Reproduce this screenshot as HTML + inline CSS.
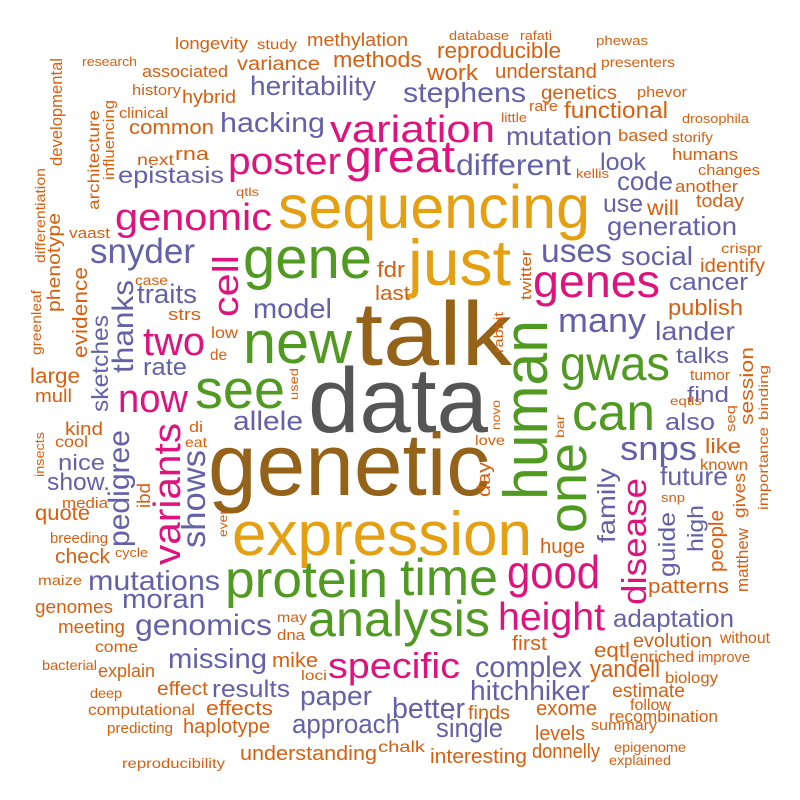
<!DOCTYPE html>
<html><head><meta charset="utf-8"><style>
html,body{margin:0;padding:0;background:#fff;}
svg{display:block;}
text{font-family:"Liberation Sans",Arial,sans-serif;}
</style></head><body>
<svg id="cloud" width="800" height="800" viewBox="0 0 800 800" xmlns="http://www.w3.org/2000/svg">
<rect width="800" height="800" fill="#fff"/>
</svg>
<script>
const palette = {G:"#555555",B:"#946218",Y:"#e4a012",N:"#519a22",M:"#df137d",P:"#6461a9",O:"#d85f10"};
// word, x, baseline y, length, size, color, rotated
const words = [
["data",308,432,180,92,"G",0],
["talk",355,365,157,90,"B",0],
["genetic",208,495,282,88,"B",0],
["sequencing",278,228,312,61,"Y",0],
["just",408,285,103,65,"Y",0],
["expression",232,555,300,62,"Y",0],
["gene",243,278,129,58,"N",0],
["new",243,363,109,60,"N",0],
["see",195,408,90,55,"N",0],
["protein",225,597,163,52,"N",0],
["time",400,595,98,52,"N",0],
["analysis",308,636,182,50,"N",0],
["human",547,500,180,62,"N",1],
["one",586,533,90,54,"N",1],
["gwas",560,380,110,48,"N",0],
["can",572,430,83,52,"N",0],
["variation",330,142,165,38,"M",0],
["great",345,172,110,45,"M",0],
["poster",228,174,113,38,"M",0],
["genomic",115,230,157,38,"M",0],
["genes",533,297,127,46,"M",0],
["cell",238,317,62,36,"M",1],
["two",143,355,62,40,"M",0],
["now",118,412,70,40,"M",0],
["variants",180,565,142,38,"M",1],
["good",507,588,93,46,"M",0],
["height",498,630,107,39,"M",0],
["specific",328,678,132,36,"M",0],
["disease",646,605,127,34,"M",1],
["heritability",250,95,126,27,"P",0],
["hacking",220,132,105,28,"P",0],
["epistasis",118,183,106,23,"P",0],
["stephens",403,102,123,28,"P",0],
["mutation",506,145,106,26,"P",0],
["different",456,175,115,30,"P",0],
["look",600,170,46,24,"P",0],
["code",617,190,56,26,"P",0],
["use",603,212,40,25,"P",0],
["generation",607,235,130,26,"P",0],
["uses",541,262,71,33,"P",0],
["social",621,265,72,26,"P",0],
["cancer",669,290,79,24,"P",0],
["many",558,332,88,34,"P",0],
["lander",655,340,80,26,"P",0],
["talks",676,363,53,22,"P",0],
["find",687,402,42,22,"P",0],
["also",665,430,50,24,"P",0],
["snps",620,460,77,34,"P",0],
["future",660,485,68,26,"P",0],
["family",615,543,75,25,"P",1],
["guide",675,577,65,23,"P",1],
["high",703,552,47,22,"P",1],
["adaptation",613,627,121,25,"P",0],
["complex",475,677,107,30,"P",0],
["hitchhiker",470,700,120,28,"P",0],
["better",392,718,73,29,"P",0],
["single",436,737,67,27,"P",0],
["snyder",90,263,105,35,"P",0],
["traits",137,303,60,27,"P",0],
["model",253,318,79,28,"P",0],
["rate",143,375,44,24,"P",0],
["thanks",133,373,93,30,"P",1],
["sketches",108,412,97,23,"P",1],
["allele",233,430,70,27,"P",0],
["pedigree",129,547,117,30,"P",1],
["shows",205,548,98,33,"P",1],
["nice",58,470,47,22,"P",0],
["show.",47,490,63,24,"P",0],
["mutations",88,590,132,28,"P",0],
["moran",122,608,83,27,"P",0],
["genomics",135,635,137,30,"P",0],
["missing",168,668,99,28,"P",0],
["results",212,697,78,24,"P",0],
["paper",300,705,72,27,"P",0],
["approach",292,733,108,27,"P",0],
["longevity",175,49,73,17,"O",0],
["study",257,49,40,14,"O",0],
["methylation",307,46,101,18,"O",0],
["research",82,66,55,13,"O",0],
["associated",142,77,86,17,"O",0],
["variance",237,70,83,19,"O",0],
["methods",333,67,89,22,"O",0],
["history",132,95,49,15,"O",0],
["hybrid",182,103,54,18,"O",0],
["developmental",62,166,108,17,"O",1],
["architecture",99,210,100,16,"O",1],
["influencing",114,180,80,15,"O",1],
["clinical",119,118,49,15,"O",0],
["common",129,134,85,20,"O",0],
["next",137,165,37,16,"O",0],
["rna",175,160,34,18,"O",0],
["qtls",236,196,23,12,"O",0],
["vaast",69,238,41,15,"O",0],
["differentiation",45,263,95,14,"O",1],
["phenotype",60,312,99,18,"O",1],
["greenleaf",41,355,65,14,"O",1],
["evidence",87,358,91,20,"O",1],
["fdr",377,277,28,22,"O",0],
["case",135,285,33,14,"O",0],
["last",375,300,35,20,"O",0],
["strs",168,320,33,17,"O",0],
["low",211,338,27,16,"O",0],
["de",210,360,17,16,"O",0],
["large",30,383,50,21,"O",0],
["used",298,400,32,12,"O",1],
["mull",35,402,37,18,"O",0],
["database",449,40,60,13,"O",0],
["rafati",520,40,32,13,"O",0],
["phewas",596,45,52,13,"O",0],
["reproducible",437,58,124,22,"O",0],
["presenters",601,67,74,14,"O",0],
["work",427,80,51,22,"O",0],
["understand",495,78,102,20,"O",0],
["genetics",541,99,76,19,"O",0],
["phevor",637,97,50,15,"O",0],
["rare",529,111,29,15,"O",0],
["little",501,122,26,13,"O",0],
["functional",564,118,104,23,"O",0],
["drosophila",682,123,67,13,"O",0],
["based",618,141,50,17,"O",0],
["storify",672,142,41,14,"O",0],
["humans",672,160,66,17,"O",0],
["kellis",576,178,33,13,"O",0],
["changes",698,175,62,15,"O",0],
["another",675,192,63,17,"O",0],
["will",647,215,32,21,"O",0],
["today",696,207,48,18,"O",0],
["twitter",531,300,50,15,"O",1],
["crispr",721,253,41,14,"O",0],
["identify",700,272,65,19,"O",0],
["publish",668,315,75,22,"O",0],
["rabbit",503,353,41,13,"O",1],
["tumor",690,380,40,15,"O",0],
["session",753,425,78,18,"O",1],
["binding",768,420,55,13,"O",1],
["kind",65,435,38,18,"O",0],
["insects",44,477,45,13,"O",1],
["cool",55,447,33,16,"O",0],
["di",189,432,14,15,"O",0],
["eat",185,447,22,14,"O",0],
["ibd",150,508,25,18,"O",1],
["media",62,508,46,15,"O",0],
["ever",227,537,27,12,"O",1],
["quote",35,520,55,21,"O",0],
["breeding",50,543,58,15,"O",0],
["check",55,563,55,20,"O",0],
["cycle",115,557,33,13,"O",0],
["maize",38,585,44,14,"O",0],
["genomes",35,613,78,18,"O",0],
["may",277,622,30,14,"O",0],
["dna",277,640,28,15,"O",0],
["meeting",58,633,67,18,"O",0],
["come",95,652,43,16,"O",0],
["mike",272,667,46,20,"O",0],
["bacterial",42,670,55,14,"O",0],
["explain",98,677,57,18,"O",0],
["loci",301,680,26,14,"O",0],
["deep",90,698,32,14,"O",0],
["effect",157,695,51,19,"O",0],
["computational",88,715,107,16,"O",0],
["effects",206,715,67,20,"O",0],
["predicting",107,733,66,15,"O",0],
["haplotype",183,733,87,20,"O",0],
["understanding",240,760,137,20,"O",0],
["chalk",378,752,47,16,"O",0],
["reproducibility",122,768,103,14,"O",0],
["eqtls",670,405,32,12,"O",0],
["novo",500,430,30,12,"O",1],
["seq",735,432,27,13,"O",1],
["bar",564,438,23,12,"O",1],
["love",475,445,30,14,"O",0],
["like",705,453,36,20,"O",0],
["known",700,470,48,16,"O",0],
["importance",768,510,83,14,"O",1],
["day",490,497,35,18,"O",1],
["gives",745,518,45,17,"O",1],
["snp",661,502,24,13,"O",0],
["people",723,572,62,20,"O",1],
["matthew",748,592,64,17,"O",1],
["huge",540,553,45,20,"O",0],
["patterns",648,593,81,20,"O",0],
["evolution",633,647,79,19,"O",0],
["without",720,643,50,16,"O",0],
["first",512,650,35,20,"O",0],
["eqtl",594,657,36,20,"O",0],
["enriched",630,662,64,16,"O",0],
["improve",698,662,52,15,"O",0],
["yandell",590,677,70,24,"O",0],
["biology",665,683,53,16,"O",0],
["estimate",612,697,73,19,"O",0],
["finds",468,719,42,19,"O",0],
["exome",536,715,61,20,"O",0],
["follow",630,710,41,16,"O",0],
["recombination",609,722,109,17,"O",0],
["levels",535,740,50,20,"O",0],
["summary",591,730,66,15,"O",0],
["epigenome",614,752,72,14,"O",0],
["donnelly",532,758,68,20,"O",0],
["interesting",430,763,97,20,"O",0],
["explained",609,765,62,14,"O",0]
];
const svg = document.getElementById('cloud');
const NS = "http://www.w3.org/2000/svg";
words.forEach(w => {
  const t = document.createElementNS(NS, 'text');
  t.setAttribute('x', w[1]);
  t.setAttribute('y', w[2]);
  t.setAttribute('font-size', w[4]);
  t.setAttribute('fill', palette[w[5]]);
  t.setAttribute('textLength', w[3]);
  t.setAttribute('lengthAdjust', 'spacingAndGlyphs');
  if (w[6]) t.setAttribute('transform', 'rotate(-90 ' + w[1] + ' ' + w[2] + ')');
  t.textContent = w[0];
  
  
  svg.appendChild(t);
});
</script>
</body></html>
